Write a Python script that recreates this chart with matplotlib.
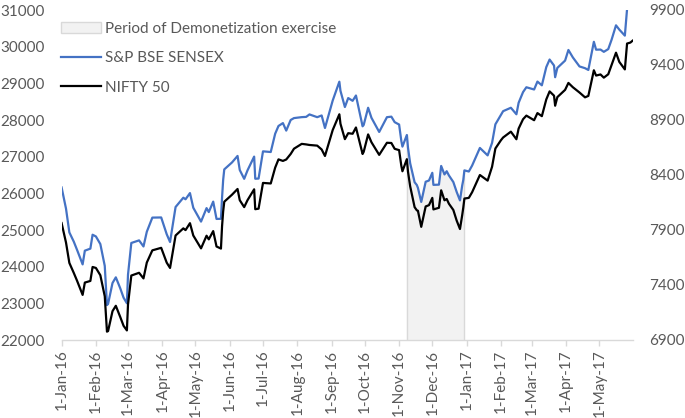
import matplotlib
matplotlib.use("Agg")
import matplotlib.pyplot as plt
from matplotlib.patches import Patch
from matplotlib.lines import Line2D
import numpy as np
import pandas as pd

dates = [
    "2016-01-01", "2016-01-05", "2016-01-08", "2016-01-12", "2016-01-15", "2016-01-20",
    "2016-01-22", "2016-01-27", "2016-01-29",
    "2016-02-01", "2016-02-05", "2016-02-09", "2016-02-11", "2016-02-12", "2016-02-16",
    "2016-02-19", "2016-02-23", "2016-02-26", "2016-02-29",
    "2016-03-01", "2016-03-04", "2016-03-11", "2016-03-15", "2016-03-18", "2016-03-23",
    "2016-03-31",
    "2016-04-05", "2016-04-08", "2016-04-13", "2016-04-20", "2016-04-22", "2016-04-26",
    "2016-04-29",
    "2016-05-06", "2016-05-11", "2016-05-13", "2016-05-17", "2016-05-20", "2016-05-24",
    "2016-05-25", "2016-05-26", "2016-05-27",
    "2016-06-03", "2016-06-08", "2016-06-10", "2016-06-14", "2016-06-17", "2016-06-23",
    "2016-06-24", "2016-06-27",
    "2016-07-01", "2016-07-08", "2016-07-12", "2016-07-15", "2016-07-19", "2016-07-22",
    "2016-07-26", "2016-07-29",
    "2016-08-05", "2016-08-09", "2016-08-12", "2016-08-19", "2016-08-23", "2016-08-26",
    "2016-09-02", "2016-09-08", "2016-09-09", "2016-09-13", "2016-09-16", "2016-09-20",
    "2016-09-23", "2016-09-29", "2016-09-30",
    "2016-10-04", "2016-10-07", "2016-10-14", "2016-10-21", "2016-10-25", "2016-10-28",
    "2016-11-01", "2016-11-03", "2016-11-04", "2016-11-08", "2016-11-09", "2016-11-11",
    "2016-11-15", "2016-11-17", "2016-11-18", "2016-11-21", "2016-11-25", "2016-11-28",
    "2016-12-01", "2016-12-02", "2016-12-07", "2016-12-09", "2016-12-12", "2016-12-14",
    "2016-12-16", "2016-12-20", "2016-12-23", "2016-12-26", "2016-12-28", "2016-12-29",
    "2016-12-30",
    "2017-01-03", "2017-01-06", "2017-01-13", "2017-01-20", "2017-01-24", "2017-01-27",
    "2017-02-01", "2017-02-03", "2017-02-10", "2017-02-15", "2017-02-17", "2017-02-21",
    "2017-02-24",
    "2017-03-03", "2017-03-06", "2017-03-10", "2017-03-14", "2017-03-17", "2017-03-21",
    "2017-03-22", "2017-03-24", "2017-03-31",
    "2017-04-03", "2017-04-07", "2017-04-13", "2017-04-18", "2017-04-21", "2017-04-26",
    "2017-04-28",
    "2017-05-02", "2017-05-05", "2017-05-09", "2017-05-12", "2017-05-16", "2017-05-19",
    "2017-05-24", "2017-05-26", "2017-05-29", "2017-05-31",
]

sensex = [
    26161, 25580, 24935, 24683, 24455, 24062,
    24436, 24492, 24871,
    24824, 24617, 24021, 22952, 22986, 23554,
    23709, 23410, 23154, 23002,
    23779, 24646, 24717, 24551, 24952, 25338,
    25342,
    24884, 24673, 25627, 25881, 25838, 26007,
    25607,
    25229, 25597, 25489, 25774, 25302, 25305,
    25881, 26366, 26653,
    26843, 27020, 26636, 26396, 26626, 27002,
    26398, 26403,
    27145, 27127, 27626, 27837, 27916, 27711,
    28000, 28052,
    28078, 28085, 28152, 28077, 28124, 27782,
    28532, 29045, 28797, 28354, 28599, 28523,
    28668, 27828, 27866,
    28334, 28061, 27674, 28077, 28091, 27941,
    27876, 27430, 27274, 27591, 27252, 26819,
    26304, 26227, 26150, 25765, 26316, 26350,
    26560, 26231, 26237, 26747, 26515, 26603,
    26489, 26308, 26040, 25807, 26210, 26366,
    26626,
    26595, 26759, 27238, 27035, 27376, 27882,
    28142, 28241, 28334, 28156, 28469, 28761,
    28893,
    28832, 29048, 28946, 29443, 29649, 29485,
    29167, 29421, 29621,
    29910, 29707, 29461, 29413, 29365, 30133,
    29918,
    29921, 29859, 29934, 30188, 30582, 30465,
    30301, 31028, 31109, 31146,
]

nifty = [
    7963, 7785, 7601, 7510, 7438, 7310,
    7422, 7437, 7564,
    7555, 7489, 7298, 6976, 6981, 7162,
    7211, 7109, 7029, 6987,
    7222, 7486, 7511, 7460, 7604, 7715,
    7738,
    7603, 7555, 7850, 7915, 7899, 7962,
    7850,
    7733, 7848, 7815, 7890, 7750, 7731,
    7934, 8069, 8157,
    8221, 8273, 8171, 8108, 8171, 8270,
    8089, 8094,
    8328, 8323, 8467, 8542, 8528, 8541,
    8591, 8639,
    8683, 8678, 8673, 8667, 8632, 8573,
    8809, 8952, 8866, 8726, 8780, 8775,
    8832, 8591, 8611,
    8769, 8698, 8583, 8693, 8691, 8638,
    8626, 8484, 8434, 8544, 8432, 8297,
    8108, 8079, 8075, 7929, 8114, 8126,
    8192, 8087, 8102, 8261, 8170, 8182,
    8139, 8082, 7986, 7909, 8034, 8104,
    8186,
    8192, 8244, 8400, 8349, 8475, 8641,
    8716, 8741, 8794, 8725, 8822, 8907,
    8940,
    8898, 8963, 8935, 9087, 9160, 9121,
    9030, 9108, 9174,
    9237, 9198, 9150, 9106, 9119, 9352,
    9304,
    9314, 9285, 9316, 9401, 9512, 9428,
    9360, 9595, 9604, 9621,
]

period_start = "2016-11-08"
period_end = "2016-12-30"

tick_dates = pd.date_range("2016-01-01", "2017-05-01", freq="MS")
tick_labels = [f"{d.day}-{d.strftime('%b')}-{d.strftime('%y')}" for d in tick_dates]

left_ticks = list(range(22000, 31001, 1000))
right_ticks = list(range(6900, 9901, 500))

series_labels = ["Period of Demonetization exercise", "S&P BSE SENSEX", "NIFTY 50"]

# ---------------------------------------------------------------
FONT = "Lato"
TXT = "#595959"
GRID = "#d9d9d9"
BLUE = "#4472C4"

plt.rcParams["font.family"] = [FONT, "DejaVu Sans"]

d = pd.to_datetime(dates)
s = np.array(sensex, dtype=float)
n = np.array(nifty, dtype=float)

fig = plt.figure(figsize=(6.85, 4.18), dpi=100)
ax = fig.add_axes([61.6 / 685, 1 - 340 / 418, (632.6 - 61.6) / 685, 330 / 418])
ax2 = ax.twinx()

# shaded demonetization period (area under SENSEX)
mask = (d >= pd.Timestamp(period_start)) & (d <= pd.Timestamp(period_end))
ax.fill_between(d[mask], s[mask], left_ticks[0], facecolor="#f2f2f2",
                edgecolor="none", zorder=1)
dm = d[mask]
sm = s[mask]
ax.plot([dm[0], dm[0]], [left_ticks[0], sm[0]], color=GRID, lw=1.0, zorder=1.5)
ax.plot([dm[-1], dm[-1]], [left_ticks[0], sm[-1]], color=GRID, lw=1.0, zorder=1.5)

ax.plot(d, s, color=BLUE, lw=1.6, zorder=3)
ax2.plot(d, n, color="black", lw=1.6, zorder=3)

ax.set_ylim(left_ticks[0], left_ticks[-1])
ax2.set_ylim(right_ticks[0], right_ticks[-1])
ax.set_yticks(left_ticks)
ax2.set_yticks(right_ticks)
ax.set_xlim(pd.Timestamp("2016-01-01"), pd.Timestamp("2017-05-31"))
ax.set_xticks(tick_dates)
ax.set_xticklabels(tick_labels, rotation=90)

for a in (ax, ax2):
    for sp in ("top", "left", "right"):
        a.spines[sp].set_visible(False)
    a.spines["bottom"].set_color(GRID)
    a.spines["bottom"].set_linewidth(1.0)
    a.tick_params(axis="y", length=0, pad=12, labelsize=11, labelcolor=TXT)
ax.tick_params(axis="x", direction="out", length=4, color=GRID, width=1.0,
               pad=3, labelsize=11, labelcolor=TXT)
ax2.spines["bottom"].set_visible(False)

handles = [
    Patch(facecolor="#f2f2f2", edgecolor=GRID, linewidth=1.0),
    Line2D([0], [0], color=BLUE, lw=1.6),
    Line2D([0], [0], color="black", lw=1.6),
]
leg = fig.legend(handles, series_labels, loc="upper left",
                 bbox_to_anchor=(61 / 685, 1 - 22 / 418),
                 frameon=False, fontsize=11, labelcolor=TXT,
                 handlelength=2.6, handletextpad=0.3, labelspacing=1.0,
                 borderpad=0, borderaxespad=0)

fig.savefig("out.png", dpi=100)
